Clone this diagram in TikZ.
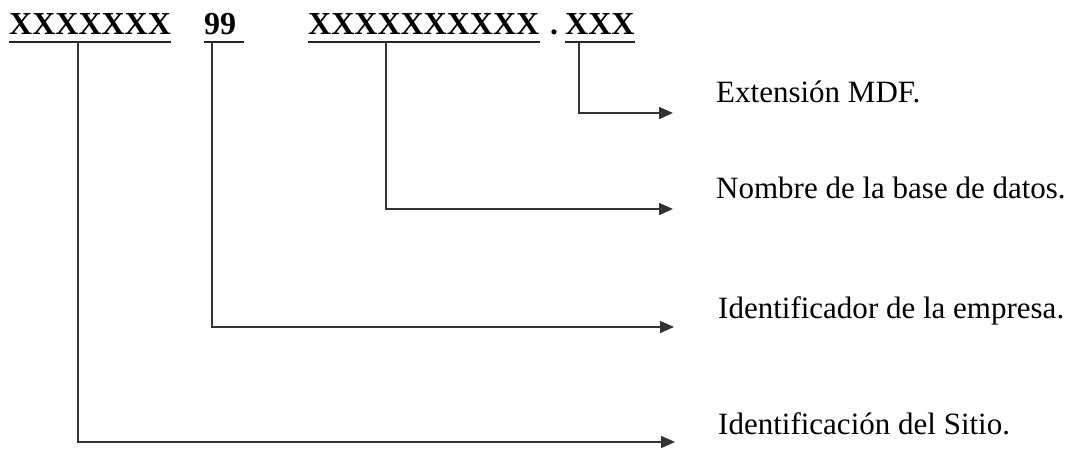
\documentclass[tikz,border=0pt]{standalone}
\usepackage{fontspec}
\setmainfont{Liberation Serif}
\usetikzlibrary{arrows.meta}
\tikzset{
  code/.style={inner sep=0pt, anchor=base west, font=\fontsize{32bp}{36bp}\selectfont\bfseries},
  lbl/.style={inner sep=0pt, anchor=base west, font=\fontsize{31bp}{36bp}\selectfont},
  uline/.style={line width=2.2bp, black!85},
  conn/.style={line width=1.6bp, black!80, -{Triangle[length=14bp,width=12bp]}},
}
\begin{document}
\begin{tikzpicture}[x=1bp,y=-1bp]
\useasboundingbox (0,0) rectangle (1079,451);
% top code
\node[code] (t1) at (9,35) {XXXXXXX};
\node[code] (t2) at (204,35) {99};
\node[code] (t3) at (308,35) {XXXXXXXXXX};
\node[code] (tdot) at (550,35) {.};
\node[code] (t4) at (565,35) {XXX};
\foreach \n/\ext in {t1/0,t2/8,t3/0,t4/0}{
  \draw[uline] ([yshift=-7bp]\n.base west) -- ([yshift=-7bp,xshift=\ext bp]\n.base east);
}
% labels
\node[lbl] (l4) at (716,103) {Extensión MDF.};
\node[lbl] (l3) at (716,199) {Nombre de la base de datos.};
\node[lbl] (l2) at (718,319) {Identificador de la empresa.};
\node[lbl] (l1) at (718,434) {Identificación del Sitio.};
% connector start points on the underlines
\coordinate (s1) at (78,42);
\coordinate (s2) at (212,42);
\coordinate (s3) at (386,42);
\coordinate (s4) at (579,42);
% arrow ends
\coordinate (e4) at (673,113);
\coordinate (e3) at (673,209);
\coordinate (e2) at (674,327);
\coordinate (e1) at (675,442);
\draw[conn] (s4) |- (e4);
\draw[conn] (s3) |- (e3);
\draw[conn] (s2) |- (e2);
\draw[conn] (s1) |- (e1);
\end{tikzpicture}
\end{document}
